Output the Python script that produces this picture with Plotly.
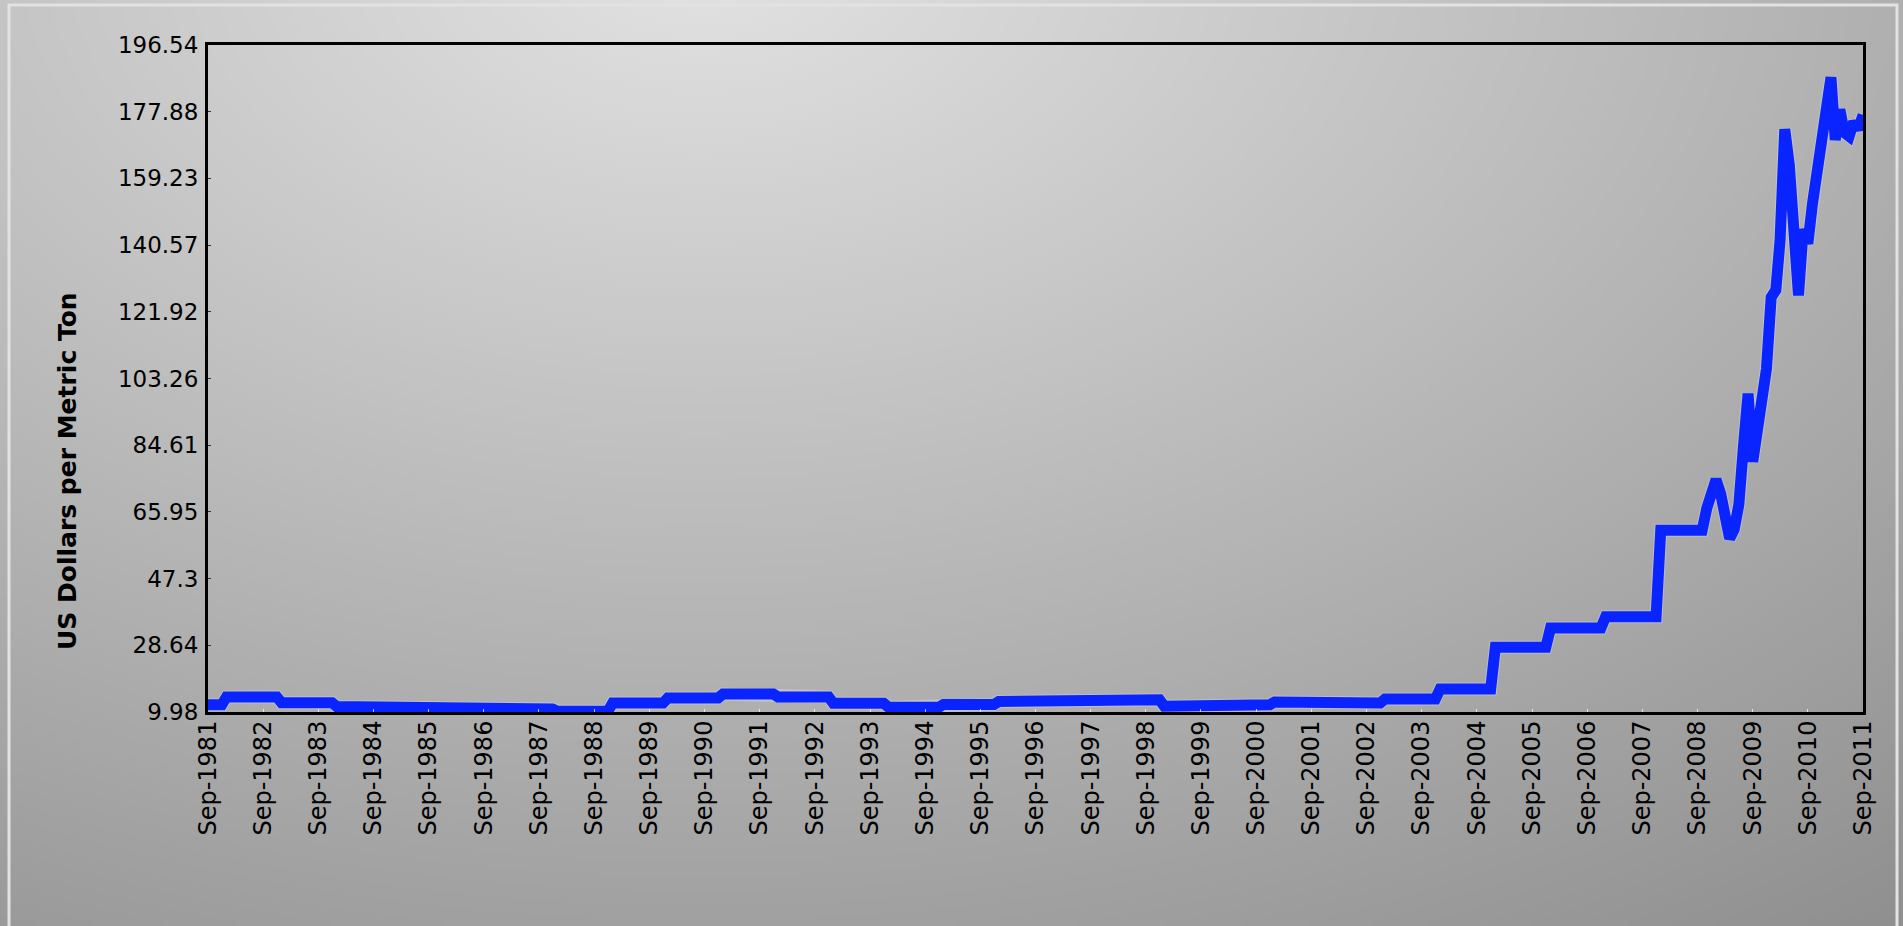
import base64
import struct
import zlib

import numpy as np
import plotly.graph_objects as go

# ---------------- data ----------------
contract_years = [1981, 1982, 1983, 1984, 1985, 1986, 1987, 1988, 1989, 1990,
                  1991, 1992, 1993, 1994, 1995, 1996, 1997, 1998, 1999, 2000,
                  2001, 2002, 2003, 2004, 2005, 2006, 2007, 2008]
contract_prices = [12.0, 14.2, 12.6, 11.5, 11.5, 11.4, 10.8, 10.2, 12.5, 13.9,
                   15.0, 14.2, 12.4, 11.3, 12.1, 12.9, 13.0, 13.4, 11.6, 12.0,
                   12.8, 12.5, 13.6, 16.4, 28.1, 33.45, 36.63, 60.8]

spot_months = ["2008-11", "2008-12",
               "2009-01", "2009-02", "2009-03", "2009-04", "2009-05", "2009-06",
               "2009-07", "2009-08", "2009-09", "2009-10", "2009-11", "2009-12",
               "2010-01", "2010-02", "2010-03", "2010-04", "2010-05", "2010-06",
               "2010-07", "2010-08", "2010-09", "2010-10", "2010-11", "2010-12",
               "2011-01", "2011-02", "2011-03", "2011-04", "2011-05", "2011-06",
               "2011-07", "2011-08", "2011-09"]
spot_prices = [67.0, 70.0,
               75.0, 71.0, 63.0, 58.5, 61.0, 68.0,
               84.0, 99.0, 80.0, 88.0, 99.0, 106.0,
               126.0, 128.0, 142.0, 173.0, 163.0, 145.0,
               126.5, 145.0, 141.0, 152.0, 162.0, 172.0,
               180.0, 187.5, 170.0, 178.5, 172.0, 171.0,
               175.0, 173.0, 177.0]

y_tick_vals = [9.98, 28.64, 47.3, 65.95, 84.61, 103.26, 121.92, 140.57,
               159.23, 177.88, 196.54]
y_tick_text = ["9.98", "28.64", "47.3", "65.95", "84.61", "103.26", "121.92",
               "140.57", "159.23", "177.88", "196.54"]
x_tick_years = list(range(1981, 2012))
x_tick_text = [f"Sep-{y}" for y in x_tick_years]

# ---------------- series ----------------
xs, ys = [], []
for yr, v in zip(contract_years, contract_prices):
    start = "1981-09-01" if yr == 1981 else f"{yr}-01-01"
    end = "2008-10-01" if yr == 2008 else f"{yr}-12-01"
    xs += [start, end]
    ys += [v, v]
xs += [m + "-01" for m in spot_months]
ys += spot_prices

# ---------------- layout geometry (pixels) ----------------
W, H = 1903, 926
L, R, T, B = 208, 1863, 45, 712
pw, ph = R - L, B - T


def px_x(x):
    return (x - L) / pw


def px_y(y):
    return (B - y) / ph


# ---------------- gradient background (PNG data uri) ----------------
def gradient_uri(w, h):
    yy, xx = np.mgrid[0:h, 0:w].astype(float)
    X = xx * (W / w)
    Y = yy * (H / h)
    d = np.sqrt(((X - 700) / 1600) ** 2 + ((Y + 50) / 1000) ** 2)
    lum = np.clip(227 - 68 * d, 0, 255).astype(np.uint8)
    arr = np.stack([lum, lum, lum], axis=-1)
    raw = b"".join(b"\x00" + arr[i].tobytes() for i in range(h))

    def chunk(tag, data):
        c = struct.pack(">I", len(data)) + tag + data
        return c + struct.pack(">I", zlib.crc32(tag + data) & 0xFFFFFFFF)

    png = (b"\x89PNG\r\n\x1a\n"
           + chunk(b"IHDR", struct.pack(">IIBBBBB", w, h, 8, 2, 0, 0, 0))
           + chunk(b"IDAT", zlib.compress(raw, 9))
           + chunk(b"IEND", b""))
    return "data:image/png;base64," + base64.b64encode(png).decode()


fig = go.Figure()
# faint light halo under the line (as in the reference rendering)
fig.add_trace(go.Scatter(
    x=xs, y=ys, mode="lines",
    line=dict(color="rgba(235,240,255,0.3)", width=13),
    hoverinfo="skip", showlegend=False,
))
fig.add_trace(go.Scatter(
    x=xs, y=ys, mode="lines",
    line=dict(color="#0a24ff", width=11),
    hoverinfo="skip", showlegend=False,
))

font_family = "DejaVu Sans"

fig.update_layout(
    width=W, height=H,
    margin=dict(l=L, r=W - R, t=T, b=H - B, pad=0),
    paper_bgcolor="#b0b0b0",
    plot_bgcolor="rgba(0,0,0,0)",
    showlegend=False,
    font=dict(family=font_family, color="black"),
    images=[dict(
        source=gradient_uri(476, 232),
        xref="paper", yref="paper",
        x=px_x(0), y=px_y(0),
        sizex=W / pw, sizey=H / ph,
        xanchor="left", yanchor="top",
        sizing="stretch", layer="below",
    )],
    shapes=[dict(
        type="rect", xref="paper", yref="paper",
        x0=px_x(9), x1=px_x(1897), y0=px_y(940), y1=px_y(5),
        line=dict(color="#e2e2e2", width=3), fillcolor="rgba(0,0,0,0)",
        layer="above",
    )],
    annotations=[dict(
        text="<b>US Dollars per Metric Ton</b>",
        xref="paper", yref="paper",
        x=px_x(68), y=px_y(471),
        xanchor="center", yanchor="middle",
        textangle=-90, showarrow=False,
        font=dict(family=font_family, size=25, color="black"),
    )],
)

fig.update_xaxes(
    type="date",
    range=["1981-09-01", "2011-09-01"],
    tickvals=[f"{y}-09-01" for y in x_tick_years],
    ticktext=x_tick_text,
    tickangle=-90,
    tickfont=dict(family=font_family, size=24, color="black"),
    ticks="inside", ticklen=3, tickcolor="rgba(255,255,255,0.7)",
    ticklabelstandoff=-4,
    showgrid=False, zeroline=False,
    showline=True, linecolor="black", linewidth=3, mirror=True,
)
fig.update_yaxes(
    range=[9.98, 196.54],
    tickvals=y_tick_vals,
    ticktext=y_tick_text,
    tickfont=dict(family=font_family, size=23, color="black"),
    ticks="inside", ticklen=3, tickcolor="#203060",
    ticklabelstandoff=2,
    showgrid=False, zeroline=False,
    showline=True, linecolor="black", linewidth=3, mirror=True,
)

fig.write_html("out.html")
